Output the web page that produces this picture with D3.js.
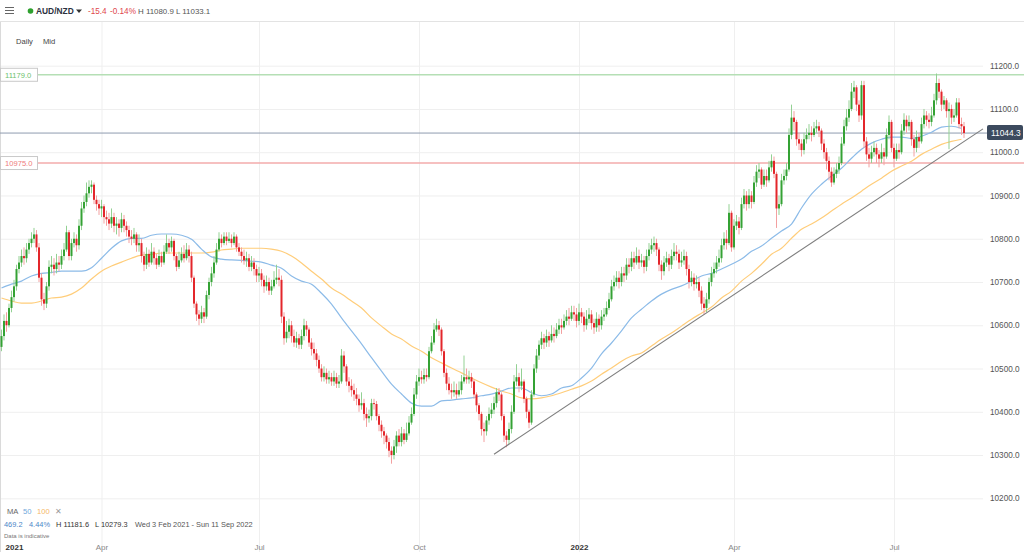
<!DOCTYPE html>
<html><head><meta charset="utf-8">
<script src="https://cdn.jsdelivr.net/npm/d3@7"></script>
<style>
html,body{margin:0;padding:0;background:#fff;}
svg{display:block;font-family:"Liberation Sans",Arial,sans-serif;}
</style></head><body>
<svg id="chart" width="1024" height="552"></svg>
<script>
// ---------- DATA ----------
const firstOpen = 10550;
const closes = [
10575,10610,10600,10640,10665,10690,10730,10745,10760,10755,
10775,10790,10800,10810,10780,10710,10660,10650,10690,10735,
10740,10730,10745,10740,10760,10775,10815,10760,10790,10800,
10785,10830,10870,10885,10905,10920,10925,10890,10880,10870,
10875,10850,10845,10835,10850,10830,10835,10825,10845,10830,
10820,10805,10800,10810,10785,10790,10760,10740,10765,10745,
10770,10755,10740,10760,10745,10770,10790,10780,10795,10760,
10735,10750,10765,10755,10775,10760,10710,10650,10625,10615,
10630,10620,10670,10700,10720,10745,10775,10800,10790,10805,
10795,10800,10790,10805,10780,10770,10760,10750,10755,10735,
10745,10730,10715,10720,10705,10690,10700,10680,10690,10705,
10710,10705,10620,10570,10585,10600,10575,10560,10570,10555,
10575,10600,10590,10560,10545,10535,10520,10500,10480,10490,
10475,10480,10470,10480,10465,10470,10530,10505,10470,10460,
10450,10440,10430,10415,10420,10395,10385,10390,10420,10418,
10390,10370,10355,10345,10330,10310,10300,10320,10345,10330,
10350,10335,10350,10375,10395,10440,10470,10480,10475,10485,
10480,10540,10560,10590,10600,10590,10540,10490,10465,10450,
10445,10450,10440,10450,10470,10480,10475,10480,10470,10440,
10415,10395,10360,10355,10380,10395,10405,10420,10445,10440,
10390,10345,10335,10360,10400,10470,10480,10460,10470,10430,
10400,10375,10440,10500,10530,10555,10570,10560,10575,10565,
10580,10575,10590,10600,10595,10610,10620,10615,10630,10625,
10610,10630,10620,10600,10615,10625,10605,10595,10615,10600,
10620,10625,10640,10660,10690,10700,10710,10700,10720,10715,
10740,10735,10755,10745,10760,10745,10750,10735,10760,10775,
10785,10790,10775,10740,10725,10745,10755,10740,10760,10770,
10765,10745,10750,10760,10730,10700,10710,10695,10700,10680,
10650,10640,10660,10700,10720,10730,10745,10755,10785,10800,
10790,10860,10780,10830,10840,10825,10880,10900,10880,10900,
10885,10930,10955,10960,10925,10945,10935,10965,10980,10950,
10870,10880,10935,10945,10960,11040,11080,11070,11030,11020,
11005,11030,11040,11045,11040,11055,11060,11050,11020,11000,
10980,10955,10930,10950,10960,10975,11020,11060,11080,11100,
11140,11150,11110,11085,11155,11025,10995,10985,11000,11010,
10995,10985,11000,10990,11040,11070,11010,10985,11005,11000,
11050,11075,11060,11070,11030,11010,11035,11025,11065,11085,
11075,11070,11085,11120,11160,11140,11110,11120,11095,11100,
11080,11085,11115,11065,11060,11044.3];
const highs = [
10590,10625,10630,10650,10680,10705,10740,10760,10775,10780,
10790,10800,10815,10825,10820,10790,10720,10675,10700,10750,
10760,10755,10765,10760,10775,10790,10830,10820,10800,10815,
10810,10845,10885,10900,10930,10935,10935,10930,10900,10890,
10890,10880,10865,10860,10870,10860,10850,10845,10860,10855,
10840,10830,10820,10825,10815,10810,10800,10770,10780,10775,
10790,10780,10765,10775,10770,10785,10810,10800,10805,10800,
10765,10770,10780,10785,10790,10785,10770,10715,10655,10635,
10645,10640,10680,10710,10735,10760,10790,10815,10810,10815,
10815,10815,10810,10815,10810,10790,10780,10775,10770,10765,
10760,10755,10740,10735,10730,10715,10715,10710,10705,10725,
10740,10730,10715,10630,10610,10615,10610,10590,10585,10580,
10590,10615,10610,10595,10570,10560,10545,10530,10510,10505,
10500,10495,10490,10495,10490,10485,10545,10540,10510,10480,
10475,10465,10455,10440,10445,10430,10410,10405,10430,10430,
10425,10395,10380,10365,10350,10340,10320,10335,10355,10360,
10365,10360,10375,10390,10410,10455,10485,10500,10495,10500,
10500,10550,10575,10605,10615,10610,10595,10545,10500,10480,
10465,10470,10465,10470,10485,10530,10500,10495,10490,10475,
10445,10420,10400,10375,10390,10410,10420,10435,10455,10455,
10445,10395,10355,10375,10415,10485,10510,10490,10500,10475,
10435,10405,10450,10510,10545,10565,10585,10580,10590,10585,
10600,10595,10605,10615,10615,10625,10635,10640,10645,10645,
10640,10650,10640,10630,10635,10640,10635,10615,10630,10625,
10635,10640,10655,10675,10705,10715,10725,10725,10735,10735,
10755,10755,10770,10770,10780,10775,10765,10760,10775,10790,
10800,10805,10800,10780,10750,10760,10770,10765,10775,10790,
10785,10775,10770,10775,10770,10740,10725,10720,10715,10710,
10690,10665,10675,10710,10735,10745,10760,10775,10800,10815,
10820,10880,10865,10845,10855,10850,10895,10915,10910,10915,
10910,10945,10970,10975,10965,10960,10960,10980,10995,10990,
10955,10900,10950,10960,10975,11055,11110,11095,11075,11045,
11030,11045,11055,11065,11060,11070,11075,11070,11055,11030,
11010,10990,10965,10965,10975,10990,11035,11075,11100,11120,
11160,11165,11155,11120,11165,11165,11035,11010,11015,11025,
11020,11005,11020,11010,11055,11085,11075,11020,11020,11020,
11065,11090,11085,11085,11075,11040,11050,11045,11080,11100,
11095,11090,11105,11135,11182,11170,11145,11130,11125,11115,
11110,11100,11125,11125,11080,11070];
const lows = [
10540,10565,10585,10595,10630,10655,10680,10720,10735,10740,
10745,10765,10780,10790,10770,10700,10645,10635,10640,10680,
10720,10715,10720,10725,10730,10750,10770,10750,10750,10780,
10770,10775,10820,10860,10875,10895,10905,10880,10865,10855,
10850,10835,10830,10820,10825,10815,10810,10805,10815,10815,
10805,10790,10785,10790,10770,10770,10745,10725,10730,10735,
10740,10740,10730,10735,10735,10740,10765,10765,10770,10750,
10725,10730,10745,10745,10750,10745,10700,10640,10610,10600,
10605,10605,10615,10660,10690,10710,10740,10770,10780,10785,
10785,10790,10780,10785,10770,10760,10745,10740,10735,10725,
10725,10715,10700,10700,10690,10675,10680,10670,10670,10685,
10695,10690,10605,10555,10560,10570,10560,10550,10548,10545,
10545,10565,10575,10550,10530,10520,10505,10490,10470,10470,
10465,10465,10460,10460,10455,10455,10465,10490,10460,10445,
10435,10425,10415,10400,10405,10380,10365,10375,10380,10405,
10380,10355,10340,10325,10315,10295,10280,10290,10305,10320,
10320,10325,10330,10345,10370,10390,10430,10460,10465,10465,
10470,10475,10535,10555,10585,10575,10530,10480,10450,10440,
10430,10435,10430,10435,10440,10465,10465,10465,10455,10430,
10400,10380,10345,10330,10345,10370,10385,10395,10410,10425,
10380,10330,10318,10325,10350,10395,10460,10445,10450,10420,
10385,10362,10370,10435,10490,10520,10545,10545,10550,10550,
10560,10560,10570,10580,10580,10590,10600,10600,10610,10610,
10595,10600,10605,10585,10590,10605,10590,10580,10585,10585,
10590,10610,10620,10635,10655,10680,10690,10685,10690,10700,
10705,10720,10725,10730,10740,10730,10735,10720,10725,10750,
10765,10770,10760,10725,10705,10715,10735,10725,10730,10750,
10750,10730,10735,10740,10715,10685,10690,10680,10685,10665,
10635,10625,10630,10650,10690,10710,10720,10735,10745,10775,
10775,10785,10770,10775,10820,10810,10820,10870,10865,10870,
10870,10880,10920,10940,10915,10920,10920,10930,10955,10940,
10825,10855,10875,10925,10935,10955,11030,11050,11015,11005,
10990,10995,11020,11030,11025,11035,11045,11035,11005,10985,
10960,10935,10920,10925,10940,10950,10970,11015,11050,11070,
11095,11125,11095,11070,11075,11010,10980,10965,10975,10990,
10975,10965,10975,10970,10985,11030,11000,10965,10980,10985,
10995,11040,11045,11050,11015,10990,11000,11010,11020,11055,
11060,11055,11060,11080,11110,11125,11095,11100,11080,11007,
11065,11070,11080,11055,11040,11033];
// moving averages, sampled every 4 candles
const maStep = 4;
const ma50 = [
10686,10695,10702,10714,10720,10722,10725,10725,10725,10733,
10755,10778,10795,10801,10801,10808,10811,10811,10808,10799,
10776,10758,10753,10751,10750,10748,10746,10739,10732,10714,
10702,10695,10674,10649,10617,10587,10557,10525,10494,10464,
10441,10420,10413,10413,10425,10427,10430,10432,10437,10441,
10448,10455,10455,10444,10437,10441,10455,10460,10478,10501,
10534,10559,10587,10617,10637,10656,10672,10683,10691,10702,
10714,10720,10730,10741,10753,10771,10783,10801,10818,10834,
10871,10903,10926,10945,10963,10986,11007,11021,11030,11035,
11035,11032,11037,11046,11058,11060,11055];
const ma100 = [
10663,10656,10651,10651,10656,10663,10665,10672,10686,10707,
10725,10737,10746,10755,10762,10764,10767,10767,10767,10767,
10767,10769,10774,10776,10778,10778,10778,10776,10771,10760,
10744,10725,10707,10686,10672,10656,10640,10617,10598,10580,
10568,10552,10540,10525,10513,10501,10490,10478,10467,10457,
10448,10441,10432,10430,10432,10437,10444,10452,10460,10471,
10487,10501,10517,10529,10536,10552,10568,10582,10598,10614,
10628,10642,10663,10679,10702,10720,10741,10764,10778,10801,
10822,10834,10848,10864,10880,10894,10910,10926,10940,10956,
10968,10979,10995,11007,11018,11025,11030];
const yTicks = [10200,10300,10400,10500,10600,10700,10800,10900,11000,11100,11200];
const xTickLabels = ["2021","Apr","Jul","Oct","2022","Apr","Jul"];
const xTickIndex = [5,40,103,167,231,293,357];
const resistance = 11179.0;
const support = 10975.0;
const lastPrice = 11044.3;
const trendPts = [[197,10302],[392.6,11054]];

// ---------- DRAWING ----------
const W = 1024, H = 552;
const svg = d3.select("#chart");
svg.append("rect").attr("width",W).attr("height",H).attr("fill","#fff");

const x = d3.scaleLinear().domain([0, 385]).range([1.5, 964]);
const y = d3.scaleLinear().domain([10200, 11200]).range([498.3, 65.7]);

// horizontal grid + right axis
const yAxis = d3.axisRight(y).tickValues(yTicks).tickFormat(d3.format(".1f"))
  .tickSize(-983).tickPadding(7);
const yg = svg.append("g").attr("transform","translate(983,0)").call(yAxis);
yg.select(".domain").remove();
yg.selectAll(".tick line").attr("stroke","#efefef");
yg.selectAll(".tick text").attr("fill","#555").attr("font-size","8.2px")
  .attr("font-family","Liberation Sans, Arial, sans-serif");

// vertical grid at month ticks
const xGrid = d3.axisBottom(x).tickValues(xTickIndex.slice(1)).tickFormat("").tickSize(-(H-22));
const xg = svg.append("g").attr("transform",`translate(0,${H})`).call(xGrid);
xg.select(".domain").remove();
xg.selectAll(".tick line").attr("stroke","#efefef");

// left border & header separator
svg.append("line").attr("x1",0.5).attr("x2",0.5).attr("y1",22).attr("y2",H).attr("stroke","#dadada");
svg.append("line").attr("x1",0).attr("x2",W).attr("y1",21.5).attr("y2",21.5).attr("stroke","#e3e3e3");

// level lines
svg.append("line").attr("x1",37).attr("x2",W).attr("y1",y(resistance)).attr("y2",y(resistance))
  .attr("stroke","#b5dfb5").attr("stroke-width",1.5);
svg.append("line").attr("x1",37).attr("x2",W).attr("y1",y(support)).attr("y2",y(support))
  .attr("stroke","#f3abab").attr("stroke-width",1.5);
svg.append("line").attr("x1",0).attr("x2",987).attr("y1",y(lastPrice)).attr("y2",y(lastPrice))
  .attr("stroke","#8f9bb0").attr("stroke-width",1);

// moving averages
const maLine = d3.line().x((d,i)=>x(i*maStep)).y(d=>y(d)).curve(d3.curveMonotoneX);
svg.append("path").datum(ma100).attr("d",maLine).attr("fill","none").attr("stroke","#ffcd7a").attr("stroke-width",1.2);
svg.append("path").datum(ma50).attr("d",maLine).attr("fill","none").attr("stroke","#8cbbe8").attr("stroke-width",1.2);

// candles
const candles = closes.map((c,i)=>({i, o: i===0 ? firstOpen : closes[i-1], c, h: highs[i], l: lows[i]}));
const cg = svg.append("g");
cg.selectAll("line.wick").data(candles).join("line").attr("class","wick")
  .attr("x1",d=>x(d.i)).attr("x2",d=>x(d.i))
  .attr("y1",d=>y(d.h)).attr("y2",d=>y(d.l))
  .attr("stroke",d=>d.c>=d.o?"#93d193":"#f3a0a0").attr("stroke-width",1);
cg.selectAll("rect.body").data(candles).join("rect").attr("class","body")
  .attr("x",d=>x(d.i)-1).attr("width",2)
  .attr("y",d=>y(Math.max(d.o,d.c)))
  .attr("height",d=>Math.max(1, Math.abs(y(d.o)-y(d.c))))
  .attr("fill",d=>d.c>=d.o?"#34a234":"#e3262b");

// trendline
svg.append("line")
  .attr("x1",x(trendPts[0][0])).attr("y1",y(trendPts[0][1]))
  .attr("x2",x(trendPts[1][0])).attr("y2",y(trendPts[1][1]))
  .attr("stroke","#7d7d7d").attr("stroke-width",1.1);

// level boxes (left)
function levelBox(v, color){
  const yy = y(v);
  svg.append("rect").attr("x",0.5).attr("y",yy-6.5).attr("width",37).attr("height",13)
    .attr("fill","#fff").attr("stroke","#c9c9c9");
  svg.append("text").attr("x",5).attr("y",yy+3).attr("font-size","7.6px").attr("fill",color).text(d3.format(".1f")(v));
}
levelBox(resistance,"#6cbf6c");
levelBox(support,"#ee7b7b");

// last price box
const ly = y(lastPrice);
svg.append("rect").attr("x",987).attr("y",ly-8).attr("width",36).attr("height",15).attr("rx",2).attr("fill","#3c4a5e");
svg.append("text").attr("x",991).attr("y",ly+3).attr("font-size","8.4px").attr("fill","#fff").text(d3.format(".1f")(lastPrice));

// x axis labels
const xAxis = d3.axisBottom(x).tickValues(xTickIndex).tickFormat((d,i)=>xTickLabels[i]).tickSize(0).tickPadding(0);
const xa = svg.append("g").attr("transform","translate(0,542)").call(xAxis);
xa.select(".domain").remove();
xa.selectAll(".tick text").attr("dy",0).attr("y",8).attr("font-size","8px")
  .attr("font-family","Liberation Sans, Arial, sans-serif")
  .attr("fill",(d,i)=>/^\d{4}$/.test(xTickLabels[i])?"#333":"#888")
  .attr("font-weight",(d,i)=>/^\d{4}$/.test(xTickLabels[i])?"bold":"normal");

// header
const hg = svg.append("g");
[7.5,10.5,13.5].forEach(v=>hg.append("line").attr("x1",5).attr("x2",14).attr("y1",v).attr("y2",v).attr("stroke","#666").attr("stroke-width",1));
hg.append("circle").attr("cx",30.5).attr("cy",11).attr("r",2.8).attr("fill","#2ea02e");
hg.append("text").attr("x",36).attr("y",14).attr("font-size","8.4px").attr("font-weight","bold").attr("fill","#2b3040").text("AUD/NZD");
hg.append("path").attr("d","M76,9.5 L82,9.5 L79,13 Z").attr("fill","#333");
hg.append("text").attr("x",88).attr("y",14).attr("font-size","8.2px").attr("fill","#e0474c").text("-15.4");
hg.append("text").attr("x",110).attr("y",14).attr("font-size","8.2px").attr("fill","#e0474c").text("-0.14%");
hg.append("text").attr("x",138).attr("y",14).attr("font-size","7.9px").attr("fill","#555").text("H 11080.9 L 11033.1");
hg.append("text").attr("x",16).attr("y",44).attr("font-size","7.6px").attr("fill","#444").text("Daily");
hg.append("text").attr("x",43).attr("y",44).attr("font-size","7.6px").attr("fill","#444").text("Mid");

// bottom-left info
const bg = svg.append("g").attr("font-size","7.6px");
bg.append("text").attr("x",7).attr("y",514).attr("fill","#666").text("MA");
bg.append("text").attr("x",23).attr("y",514).attr("fill","#6fa8dc").text("50");
bg.append("text").attr("x",37).attr("y",514).attr("fill","#f5b768").text("100");
bg.append("text").attr("x",55).attr("y",514).attr("fill","#999").text("✕");
bg.append("text").attr("x",4).attr("y",527).attr("font-size","7.4px").attr("fill","#4a86c8").text("469.2");
bg.append("text").attr("x",29).attr("y",527).attr("font-size","7.4px").attr("fill","#4a86c8").text("4.44%");
bg.append("text").attr("x",56).attr("y",527).attr("font-size","7.4px").attr("fill","#333").text("H 11181.6");
bg.append("text").attr("x",95).attr("y",527).attr("font-size","7.4px").attr("fill","#333").text("L 10279.3");
bg.append("text").attr("x",135).attr("y",527).attr("font-size","7.4px").attr("fill","#555").text("Wed 3 Feb 2021 - Sun 11 Sep 2022");
bg.append("text").attr("x",4).attr("y",538).attr("font-size","6px").attr("fill","#777").text("Data is indicative");
</script>
</body></html>
